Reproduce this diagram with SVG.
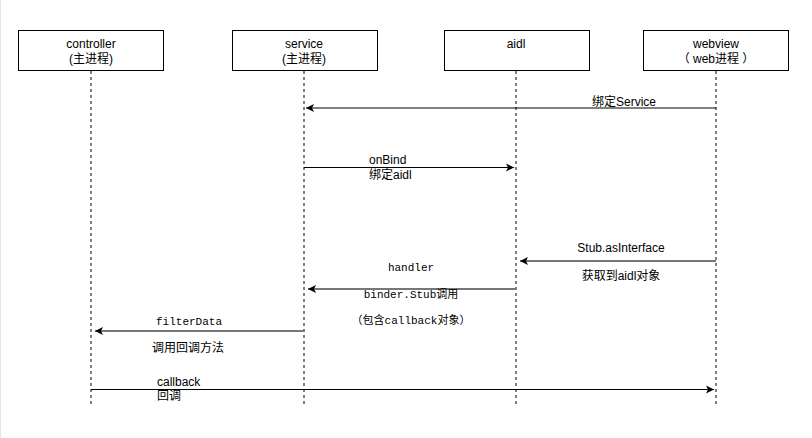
<svg xmlns="http://www.w3.org/2000/svg" width="812" height="438" viewBox="0 0 812 438">
<style>
.box{fill:#fff;stroke:#000;stroke-width:1}
.life{stroke:#000;stroke-width:1;stroke-dasharray:3 3}
.t{font-family:"Liberation Sans","Noto Sans CJK SC",sans-serif;font-size:12px;fill:#000}
.m{font-family:"Liberation Mono","Noto Sans CJK SC",monospace;font-size:11px;fill:#000}
.c{text-anchor:middle}
.a1{stroke:#000;stroke-width:1;fill:none}
.a2{stroke:#777;stroke-width:2;fill:none}
</style>
<defs>
<marker id="ah" markerWidth="10" markerHeight="10" refX="8" refY="5" orient="auto" markerUnits="userSpaceOnUse">
<path d="M0,1 L8,5 L0,9 L2,5 Z" fill="#000"/>
</marker>
</defs>
<rect x="0" y="0" width="812" height="438" fill="#fff"/>
<line x1="0.5" y1="0" x2="0.5" y2="438" stroke="#e6e6e6"/>
<g id="controller">
<rect class="box" x="18.5" y="30.5" width="145" height="40"/>
<line class="life" x1="91" y1="71" x2="91" y2="404"/>
<text class="t c" x="91" y="48">controller</text>
<text class="t c" x="91" y="63">(主进程)</text>
</g>
<g id="service">
<rect class="box" x="232.5" y="30.5" width="145" height="40"/>
<line class="life" x1="304" y1="71" x2="304" y2="404"/>
<text class="t c" x="304" y="48">service</text>
<text class="t c" x="304" y="63">(主进程)</text>
</g>
<g id="aidl">
<rect class="box" x="444.5" y="30.5" width="145" height="40"/>
<line class="life" x1="516" y1="71" x2="516" y2="404"/>
<text class="t c" x="516" y="48">aidl</text>
</g>
<g id="webview">
<rect class="box" x="643.5" y="30.5" width="145" height="40"/>
<line class="life" x1="716" y1="71" x2="716" y2="404"/>
<text class="t c" x="716" y="48">webview</text>
<text class="t c" x="716" y="63">（ web进程 ）</text>
</g>
<g id="connectors">
<line class="a1" x1="716" y1="108" x2="306" y2="108" marker-end="url(#ah)"/>
<text class="t c" x="624" y="106">绑定Service</text>
<line class="a1" x1="304" y1="167.5" x2="514" y2="167.5" marker-end="url(#ah)"/>
<text class="t" x="369" y="164">onBind</text>
<text class="t" x="369" y="179">绑定aidl</text>
<line class="a2" x1="716" y1="261" x2="520" y2="261" marker-end="url(#ah)"/>
<text class="t c" x="621" y="252">Stub.asInterface</text>
<text class="t c" x="621" y="280">获取到aidl对象</text>
<line class="a2" x1="516" y1="289" x2="308" y2="289" marker-end="url(#ah)"/>
<text class="m c" x="411" y="271">handler</text>
<text class="m c" x="411" y="298">binder.Stub调用</text>
<text class="m c" x="411" y="324">（包含callback对象）</text>
<line class="a2" x1="304" y1="331" x2="95" y2="331" marker-end="url(#ah)"/>
<text class="m c" x="189" y="325">filterData</text>
<text class="t" x="152" y="352">调用回调方法</text>
<line class="a1" x1="91" y1="389.5" x2="714" y2="389.5" marker-end="url(#ah)"/>
<text class="t" x="157" y="386">callback</text>
<text class="t" x="157" y="400">回调</text>
</g>
</svg>
